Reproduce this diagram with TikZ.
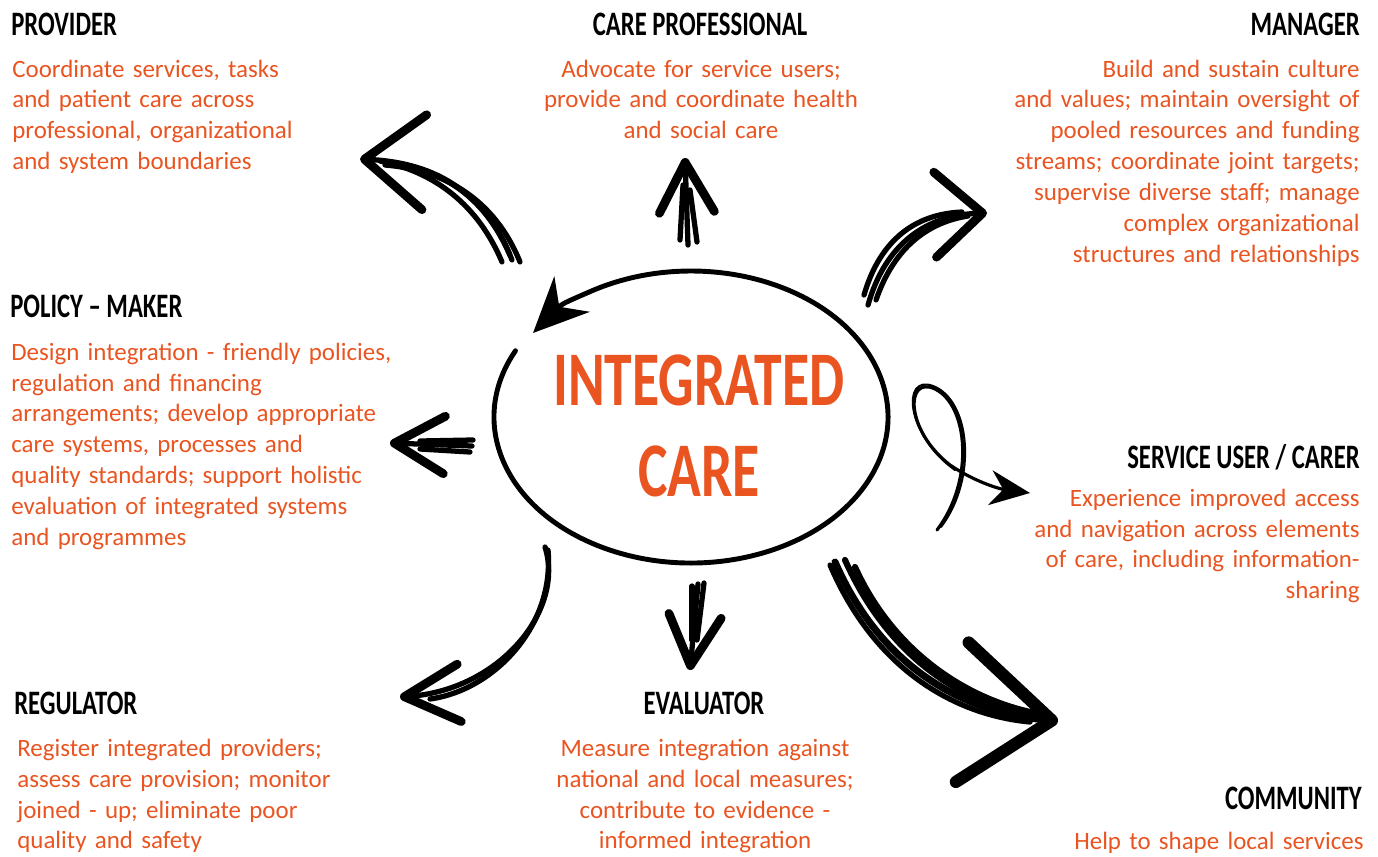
\documentclass[tikz,border=0pt]{standalone}
\usepackage{fontspec}
\setmainfont{Carlito}
\newfontfamily\headfont[FakeStretch=0.72]{Carlito}
\usetikzlibrary{arrows.meta}
\definecolor{careorange}{RGB}{233,84,32}

\begin{document}
\begin{tikzpicture}[x=0.02cm,y=-0.02cm,
    heading/.style={inner sep=0pt,font=\headfont\bfseries\fontsize{19.5}{22}\selectfont},
    desc/.style={inner sep=0pt,text width=9cm,text=careorange,
                 font=\fontsize{14.2}{17.64}\selectfont},
    sketch/.style={line width=3pt,line cap=round,line join=round},
    barb/.style args={#1/#2}{-{Straight Barb[length=#1,width=#2,line width=5pt,round]}},
    ring/.style={line width=2.8pt,line cap=round}]

  \useasboundingbox (0,0) rectangle (1378,856);

  % centre
  \node[text=careorange,align=center,inner sep=0pt,
        font=\headfont\bfseries\fontsize{44}{52}\selectfont] (care) at (699,426)
        {INTEGRATED\\CARE};
  \coordinate (ringtip) at (533,333);
  \draw[ring,-{Stealth[length=11mm,width=10mm]}]
    ([shift={(-8,-9)}]care.center) ++(207:197 and 146)
    arc[start angle=207,end angle=-120,x radius=197,y radius=146]
    .. controls +(-30,13) .. (ringtip);

  % roles, top row
  \node[heading,anchor=base west] (provider) at (11,35) {PROVIDER};
  \node[desc,align=left,anchor=base west] (providertxt) at (12,77)
    {Coordinate services, tasks\\and patient care across\\professional, organizational\\and system boundaries};

  \node[heading,anchor=base] (prof) at (700,35) {CARE PROFESSIONAL};
  \node[desc,align=center,anchor=base] (proftxt) at (701,77)
    {Advocate for service users;\\provide and coordinate health\\and social care};

  \node[heading,anchor=base east] (manager) at (1360,35) {MANAGER};
  \node[desc,align=right,anchor=base east] (managertxt) at (1360,77)
    {Build and sustain culture\\and values; maintain oversight of\\pooled resources and funding\\streams; coordinate joint targets;\\supervise diverse staff; manage\\complex organizational\\structures and relationships};

  % roles, middle row
  \node[heading,anchor=base west] (policy) at (10,317) {POLICY – MAKER};
  \node[desc,align=left,anchor=base west] (policytxt) at (11,360)
    {Design integration - friendly policies,\\regulation and financing\\arrangements; develop appropriate\\care systems, processes and\\quality standards; support holistic\\evaluation of integrated systems\\and programmes};

  \node[heading,anchor=base east] (user) at (1360,468) {SERVICE USER / CARER};
  \node[desc,align=right,anchor=base east] (usertxt) at (1360,506)
    {Experience improved access\\and navigation across elements\\of care, including information-\\sharing};

  % roles, bottom row
  \node[heading,anchor=base west] (regulator) at (14,714) {REGULATOR};
  \node[desc,align=left,anchor=base west] (regulatortxt) at (17,756)
    {Register integrated providers;\\assess care provision; monitor\\joined - up; eliminate poor\\quality and safety};

  \node[heading,anchor=base] (evaluator) at (704,714) {EVALUATOR};
  \node[desc,align=center,anchor=base] (evaluatortxt) at (705,756)
    {Measure integration against\\national and local measures;\\contribute to evidence -\\informed integration};

  \node[heading,anchor=base east] (community) at (1362,809) {COMMUNITY};
  \node[desc,align=right,anchor=base east] (communitytxt) at (1364,849)
    {Help to shape local services};

  % arrows out of the ring
  \coordinate (provS) at (512,260);  \coordinate (provT) at (360,159);
  \coordinate (profS) at (688,245);  \coordinate (profT) at (685,158);
  \coordinate (manS) at (868,305);   \coordinate (manT) at (987,213);
  \coordinate (polS) at (472,446);   \coordinate (polT) at (390,443);
  \coordinate (userS) at (937,530);  \coordinate (userT) at (1030,493);
  \coordinate (regS) at (545,547);   \coordinate (regT) at (400,697);
  \coordinate (evalS) at (698,584);  \coordinate (evalT) at (690,670);
  \coordinate (comS) at (835,562);   \coordinate (comT) at (1058,721);

  \draw[sketch,barb=12mm/19mm] (provS) .. controls (485,195) and (440,163) .. (provT);
  \draw[sketch] (520,262) .. controls (495,200) and (445,170) .. (385,165);
  \draw[sketch] (502,262) .. controls (478,205) and (435,172) .. (380,161);
  \draw[sketch] (510,255) .. controls (488,200) and (440,167) .. (390,163);

  \draw[sketch,barb=10mm/11mm] (profS) -- (profT);
  \draw[sketch] (697,242) -- (690,190);
  \draw[sketch] (680,240) -- (683,185);

  \draw[sketch,barb=9.5mm/17mm] (manS) .. controls (885,245) and (925,215) .. (manT);
  \draw[sketch] (876,300) .. controls (895,245) and (930,222) .. (968,216);
  \draw[sketch] (864,295) .. controls (880,240) and (915,214) .. (962,212);

  \draw[sketch,barb=10mm/11.5mm] (polS) -- (polT);
  \draw[sketch] (473,440) -- (420,441);
  \draw[sketch] (470,452) -- (420,449);

  \draw[line width=1.8pt,line cap=round,-{Stealth[length=8mm,width=7mm]}] (userS)
    .. controls (975,480) and (968,405) .. (935,389)
    .. controls (905,375) and (905,430) .. (950,465)
    .. controls (975,482) and (1000,489) .. (userT);
  \draw[line width=1.2pt,line cap=round] (941,527)
    .. controls (978,478) and (970,400) .. (933,386)
    .. controls (901,374) and (906,435) .. (955,470);

  \draw[sketch,barb=11mm/11.5mm] (regS) .. controls (565,610) and (500,690) .. (regT);
  \draw[sketch] (548,550) .. controls (555,625) and (495,690) .. (430,699);

  \draw[sketch,barb=10mm/10.5mm] (evalS) -- (evalT);
  \draw[sketch] (704,583) -- (697,640);
  \draw[sketch] (692,586) -- (692,640);

  \draw[sketch,line width=4pt,
        -{Straight Barb[length=18mm,width=28mm,line width=7pt,round]}]
    (comS) .. controls (880,665) and (960,712) .. (comT);
  \draw[sketch,line width=3.5pt] (845,560) .. controls (890,660) and (965,705) .. (1040,718);
  \draw[sketch,line width=3.5pt] (855,567) .. controls (895,655) and (970,700) .. (1035,713);
  \draw[sketch] (830,565) .. controls (875,670) and (955,715) .. (1030,722);
\end{tikzpicture}
\end{document}
